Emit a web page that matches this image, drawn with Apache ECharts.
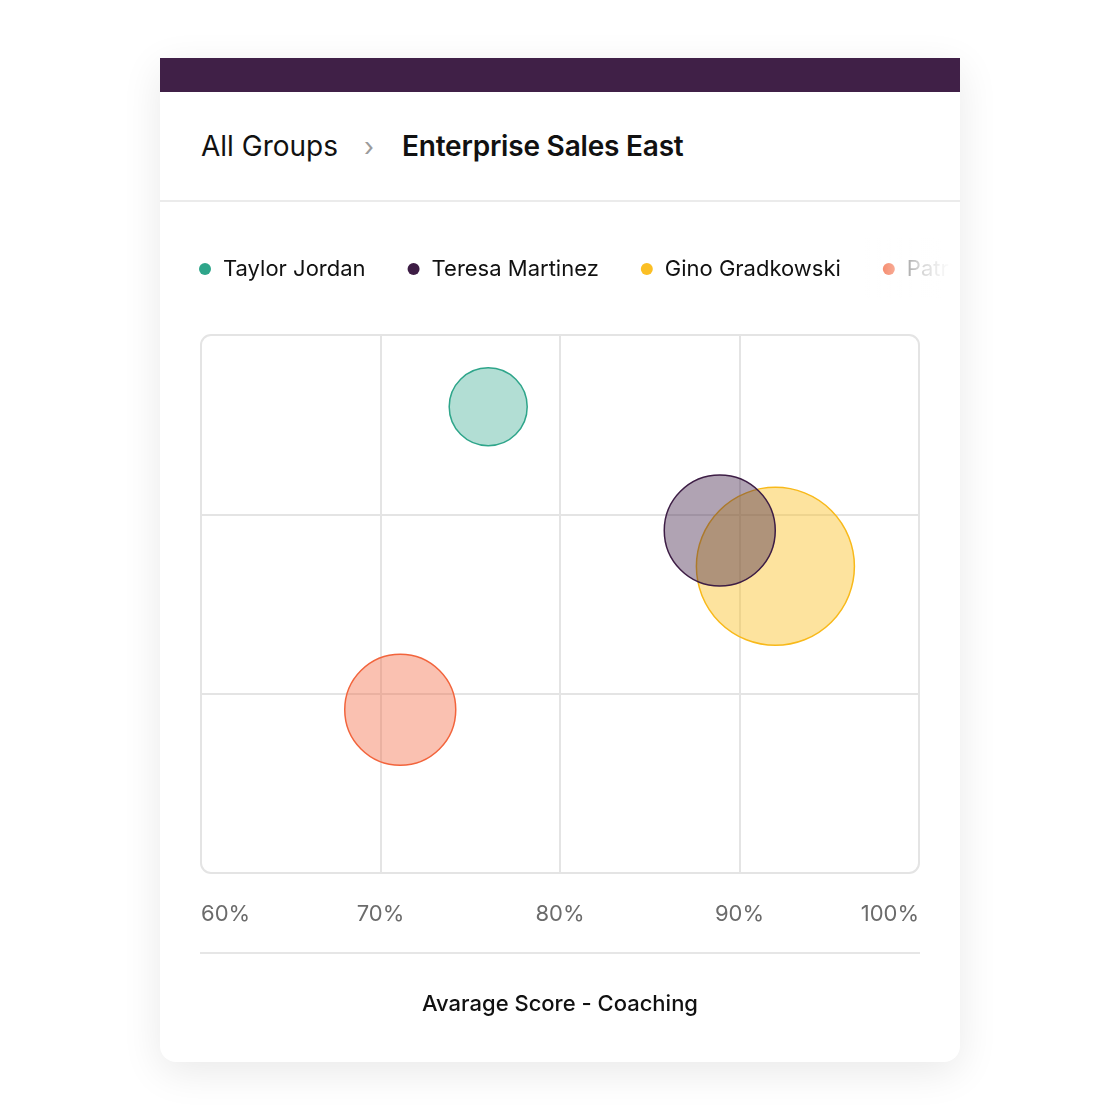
<!DOCTYPE html>
<html>
<head>
<meta charset="utf-8">
<script src="https://cdn.jsdelivr.net/npm/echarts@6/dist/echarts.min.js"></script>
<style>
  body { margin: 0; background: #fff; font-family: Inter, "Noto Sans", sans-serif; }
  #card {
    position: absolute; left: 160px; top: 58px; width: 800px; height: 1004px;
    background: #fff; border-radius: 0 0 16px 16px; overflow: hidden;
    box-shadow: 0 10px 40px rgba(0,0,0,0.09);
  }
  #bar { position: absolute; left: 0; top: 0; width: 800px; height: 34px; background: #402047; }
  #crumbs { position: absolute; left: 41px; top: 72px; font-size: 28px; line-height: 32px; color: #111; white-space: nowrap; }
  #crumbs .sep { color: #9b9b9b; font-size: 26px; margin: 0 28px 0 26px; }
  #crumbs b { font-weight: 600; letter-spacing: -0.2px; }
  #rule { position: absolute; left: 0; top: 142px; width: 800px; height: 2px; background: #ebebeb; }
  #main { position: absolute; left: 0; top: 0; width: 800px; height: 1004px; }
  #fade {
    position: absolute; left: 705px; top: 180px; width: 95px; height: 60px;
    background: linear-gradient(to right, rgba(255,255,255,0) 0%, rgba(255,255,255,0.8) 55%, #fff 90%);
  }
</style>
</head>
<body>
<div id="card">
  <div id="bar"></div>
  <div id="crumbs">All Groups<span class="sep">›</span><b>Enterprise Sales East</b></div>
  <div id="rule"></div>
  <div id="main"></div>
  <div id="fade"></div>
</div>
<script>
var people = ['Taylor Jordan', 'Teresa Martinez', 'Gino Gradkowski', 'Patrick Morgan'];
var coachingScore = [76.0, 88.9, 92.0, 71.1];   // x, percent
var otherScore = [2.60, 1.91, 1.71, 0.91];      // y, unlabeled
var bubbleSize = [78, 111, 158, 111];
var xTicks = [60, 70, 80, 90, 100];

var lineColors = ['#2ea58a', '#3d1d45', '#f8b91a', '#f2643c'];
var fillColors = ['rgba(46,165,138,0.37)', 'rgba(63,31,71,0.41)', 'rgba(250,190,30,0.43)', 'rgba(242,100,60,0.4)'];
var legendColors = ['#2ea58a', '#3d1d45', '#fbbf24', '#f2643c'];
var layers = [2, 4, 3, 2];

var myChart = echarts.init(document.getElementById('main'));

var option = {
  textStyle: { fontFamily: 'Inter' },
  legend: {
    left: 34,
    top: 195,
    width: 1400,
    itemWidth: 26,
    itemHeight: 12,
    itemGap: 42,
    icon: 'circle',
    selectedMode: false,
    textStyle: { fontSize: 22, color: '#111', fontFamily: 'Inter' },
    data: people.map(function (name, i) {
      return { name: name, itemStyle: { color: legendColors[i], borderWidth: 0 } };
    })
  },
  grid: { left: 41, top: 277, width: 718, height: 538 },
  xAxis: {
    type: 'value',
    min: xTicks[0],
    max: xTicks[xTicks.length - 1],
    interval: 10,
    axisLine: { show: false },
    axisTick: { show: false },
    splitLine: { showMinLine: false, showMaxLine: false, lineStyle: { color: '#e4e4e4', width: 2 } },
    axisLabel: {
      formatter: '{value}%',
      fontSize: 22,
      color: '#6b6b6b',
      margin: 30,
      alignMinLabel: 'left',
      alignMaxLabel: 'right'
    },
    name: 'Avarage Score - Coaching',
    nameLocation: 'middle',
    nameGap: 131,
    nameTextStyle: { fontSize: 22, fontWeight: 500, color: '#111', verticalAlign: 'middle' }
  },
  yAxis: {
    type: 'value',
    min: 0,
    max: 3,
    interval: 1,
    axisLine: { show: false },
    axisTick: { show: false },
    axisLabel: { show: false },
    splitLine: { showMinLine: false, showMaxLine: false, lineStyle: { color: '#e4e4e4', width: 2 } }
  },
  graphic: [{
    type: 'rect',
    silent: true,
    z: -1,
    shape: { x: 41, y: 277, width: 718, height: 538, r: 10 },
    style: { fill: 'none', stroke: '#e4e4e4', lineWidth: 2 }
  }, {
    type: 'line',
    silent: true,
    shape: { x1: 40, y1: 895, x2: 760, y2: 895 },
    style: { stroke: '#e6e6e6', lineWidth: 2 }
  }],
  series: people.map(function (name, i) {
    return {
      name: name,
      type: 'scatter',
      z: layers[i],
      symbolSize: function (d) { return d[2]; },
      itemStyle: { color: fillColors[i], borderColor: lineColors[i], borderWidth: 1.5, opacity: 1 },
      emphasis: { disabled: true },
      data: [[coachingScore[i], otherScore[i], bubbleSize[i]]]
    };
  })
};

myChart.setOption(option);
</script>
</body>
</html>
